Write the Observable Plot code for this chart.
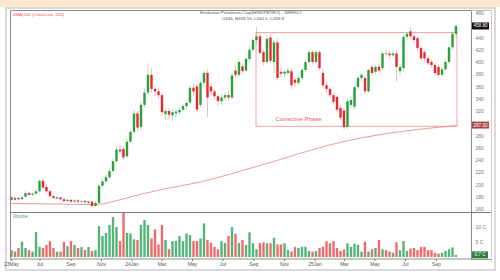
<!DOCTYPE html>
<html><head><meta charset="utf-8">
<script src="https://cdn.jsdelivr.net/npm/d3@7"></script>
<script src="https://cdn.jsdelivr.net/npm/@observablehq/plot@0.6"></script>
<style>
body{margin:0;background:#fff;font-family:"Liberation Sans",Arial,sans-serif;}
#wrap{position:relative;width:500px;height:280px;overflow:hidden;background:#fff;}
#wrap svg{position:absolute;left:0;}
</style></head><body><div id="wrap"></div>
<script>
// ---- data (weekly candles, HINDPETRO) ----
const startDate = "2023-05-05";
const opens  = [179,175,178,176,180,186,183,185,189,206,196,189,181,177,179,176,173,175,172,174,172,173,170,172,165,170,198,205,212,222,238,257,258,246,270,286,316,294,330,350,379,356,352,346,315,320,313,316,318,322,328,334,358,360,330,366,382,360,352,344,336,342,346,342,386,379,393,386,405,420,436,442,416,400,440,400,432,384,381,382,385,371,366,374,387,400,416,400,416,382,362,356,346,343,325,321,294,330,327,359,374,374,352,392,384,392,390,414,414,411,414,385,390,441,450,442,439,423,416,406,400,395,392,379,388,400,424,446];
const highs  = [181,180,179,181,190,188,187,192,208,210,200,191,183,181,180,178,177,176,176,176,175,175,174,173,172,200,210,216,226,242,262,265,262,274,290,322,320,335,356,398,390,362,358,350,325,324,322,324,326,332,338,362,365,364,370,386,388,366,356,348,346,350,352,382,392,404,398,408,425,440,457,446,420,444,446,436,438,390,388,392,390,376,378,390,403,420,420,420,419,388,366,360,350,346,330,326,340,344,362,378,382,378,390,396,396,396,418,420,418,420,418,396,444,450,457,446,442,426,420,410,404,398,396,392,404,428,450,459.55];
const lows   = [173,173,174,175,179,181,181,184,187,193,186,179,176,175,174,171,171,170,170,170,170,169,168,162,163,168,195,202,209,220,235,250,240,243,267,283,288,290,326,346,350,345,340,312,305,306,303,310,314,318,323,330,345,318,326,360,310,346,338,328,330,337,338,339,375,375,380,383,400,415,430,412,395,396,398,382,370,376,375,378,355,360,362,370,383,396,396,397,386,358,350,342,330,318,305,290,290,325,322,355,368,348,350,378,380,382,386,408,405,408,368,378,386,436,438,430,418,400,400,394,390,378,375,375,385,396,420,440.1];
const closes = [175,178,176,179,186,183,185,189,206,195,189,181,178,179,176,173,175,172,174,172,173,171,172,165,170,198,205,212,222,238,257,254,244,270,286,316,293,330,350,379,356,352,346,318,320,314,318,319,322,328,333,358,352,322,366,382,342,352,344,336,342,346,342,378,379,400,385,405,420,436,442,415,400,438,402,432,374,381,384,386,362,366,374,387,400,416,400,416,390,362,356,346,335,322,309,294,336,338,359,374,379,352,387,382,392,386,414,413,411,414,392,392,441,446,442,436,423,406,406,398,395,382,379,388,400,424,446,458.8];
// volume, crores of shares
const volumes = [2.3,1.8,3.0,5.1,3.0,2.3,1.8,8.3,3.4,3.0,4.0,5.3,3.0,1.8,1.8,5.1,3.6,5.3,4.0,3.0,3.3,2.3,3.3,2.0,2.3,10.3,7.0,8.0,10.7,13.3,10.0,5.3,14.8,8.0,7.8,5.9,5.7,10.7,12.3,10.7,6.2,9.2,4.2,10.7,5.7,2.6,5.3,5.3,7.0,5.3,7.8,7.3,5.3,5.3,6.2,11.2,5.7,4.7,3.4,2.6,5.3,4.7,7.0,10.0,7.8,4.7,5.7,4.0,
  8.2,4.6,2.6,4.6,4.9,4.6,4.6,6.4,4.2,4.2,4.6,2.3,1.8,3.4,3.0,3.4,3.4,2.0,1.8,2.0,3.0,3.4,5.3,4.6,5.3,3.0,2.0,2.6,4.6,3.4,4.4,4.0,1.8,5.1,1.8,2.6,3.0,5.7,2.6,2.3,1.8,1.4,4.9,2.3,5.3,2.0,2.8,3.0,2.3,3.4,3.4,2.3,2.3,1.4,1.1,1.4,2.0,2.6,3.2,0.7];
// 200-period SMA, read at a few weeks
const smaWeeks  = [0,11,24,31,37,45,54,65,77,88,100,111,127];
const smaValues = [170,169,168,176,185,195,205,222,242,261,277,287,297];
// axis
const priceTicks = [160,180,200,220,240,260,280,320,340,360,380,400,420,440,480];
const volumeTicks = [5,10];
const tickDates  = ["2023-05-05","2023-07-01","2023-09-01","2023-11-01","2024-01-01","2024-03-01","2024-05-01","2024-07-01","2024-09-01","2024-11-01","2025-01-01","2025-03-01","2025-05-01","2025-07-01","2025-09-01"];
const tickLabels = ["23May","Jul","Sep","Nov","24Jan","Mar","May","Jul","Sep","Nov","25Jan","Mar","May","Jul","Sep"];
// annotations
const boxStart = "2024-09-06", boxEnd = "2025-10-13", boxLow = 295, boxHigh = 448;
const annotationText = ["Corrective Phase"], annotationWeek = [82], annotationPrice = [308];
const titleLines = ["Hindustan Petroleum Corp(HINDPETRO) - WEEKLY", "O446, H459.55, L440.1, C458.8"];
const smaLabel = "SMA(200 (CloseLine, 200)";

// ---- build ----
const GREEN = "#26a03c", RED = "#e9282e", VGREEN = "#55b27a", VRED = "#ef6b6b";
const weekDate = i => d3.utcDay.offset(new Date(startDate), 7 * i);
const candles = opens.map((o, i) => ({date: weekDate(i), open: o, high: highs[i], low: lows[i], close: closes[i], volume: volumes[i], up: closes[i] >= o}));
const sma = smaWeeks.map((w, i) => ({date: weekDate(w), value: smaValues[i]}));
const xDomain = [weekDate(0), weekDate(opens.length - 1)];
const xRange = [11, 455.5];
const FONT = "Liberation Sans, Arial, sans-serif";

const price = Plot.plot({
  width: 500, height: 213,
  marginLeft: 10, marginRight: 29, marginTop: 10, marginBottom: 1,
  style: {background: "transparent", fontSize: "5px", fontFamily: FONT, overflow: "visible"},
  x: {type: "utc", domain: xDomain, range: xRange, axis: null},
  y: {domain: [160, 480], range: [209, 13], axis: null},
  color: {type: "identity"},
  marks: [
    Plot.axisY({anchor: "right", ticks: priceTicks, label: null, tickSize: 0, tickPadding: 4, fill: "#777", textAnchor: "start", fontSize: 5}),
    Plot.rect([0], {x1: () => new Date(boxStart), x2: () => new Date(boxEnd), y1: () => boxLow, y2: () => boxHigh, stroke: "#f3a2a2", strokeWidth: 1, fill: "none"}),
    Plot.line(sma, {x: "date", y: "value", stroke: "#e98484", strokeWidth: 0.8, curve: "monotone-x"}),
    Plot.ruleX(candles, {x: "date", y1: "low", y2: "high", stroke: d => d.up ? GREEN : RED, strokeWidth: 0.6, strokeOpacity: 0.55}),
    Plot.ruleX(candles, {x: "date", y1: "open", y2: "close", stroke: d => d.up ? GREEN : RED, strokeWidth: 2.4}),
    Plot.text(annotationText, {x: (d, i) => weekDate(annotationWeek[i]), y: (d, i) => annotationPrice[i], text: d => d, fill: "#e35a5a", fontSize: 6}),
    Plot.text([titleLines[0]], {frameAnchor: "top", dx: 10, dy: 2, text: d => d, fill: "#555", fontSize: 4.4, lineAnchor: "middle"}),
    Plot.text([titleLines[1]], {frameAnchor: "top", dx: 12, dy: 8.5, text: d => d, fill: "#555", fontSize: 4.4, lineAnchor: "middle"}),
    Plot.text([smaLabel], {frameAnchor: "top-left", dx: 2, dy: 4, text: d => d, fill: "#e05858", fontSize: 4.4, textAnchor: "start", lineAnchor: "middle"})
  ]
});
price.style.top = "0px";

const labelMap = new Map(tickDates.map((s, i) => [+new Date(s), tickLabels[i]]));
const vol = Plot.plot({
  width: 500, height: 58,
  marginLeft: 10, marginRight: 29, marginTop: 0, marginBottom: 11,
  style: {background: "transparent", fontSize: "5px", fontFamily: FONT, overflow: "visible"},
  x: {type: "utc", domain: xDomain, range: xRange},
  y: {domain: [0, 15], range: [45, 0], axis: null},
  color: {type: "identity"},
  marks: [
    Plot.ruleX(candles, {x: "date", y1: 0, y2: "volume", stroke: d => d.up ? VGREEN : VRED, strokeWidth: 2.4}),
    Plot.axisY({anchor: "right", ticks: volumeTicks, label: null, tickFormat: d => d + " C", tickSize: 0, tickPadding: 4, fill: "#777", textAnchor: "start", fontSize: 5}),
    Plot.axisX({ticks: tickDates.map(s => new Date(s)), label: null, tickFormat: d => labelMap.get(+d), tickSize: 2, tickPadding: 1, fill: "#555", stroke: "#777", fontSize: 5}),
    Plot.text(["Volume"], {frameAnchor: "top-left", dx: 2, dy: 4.5, text: d => d, fill: "#3f9b5e", fontSize: 4.6, textAnchor: "start", lineAnchor: "middle"})
  ]
});
vol.style.top = "212px";

const wrap = d3.select("#wrap");
wrap.append("div").style("position","absolute").style("left","0").style("top","0").style("width","500px").style("height","7px").style("background","#fde8cf");
wrap.append("div").style("position","absolute").style("left","5px").style("top","7px").style("width","487px").style("height","260px").style("border","2px solid #d9d9d9");
wrap.node().append(price);
wrap.node().append(vol);

// overlay: frame lines and value tags
const ov = wrap.append("svg").attr("width", 500).attr("height", 280).style("top", "0px");
ov.append("rect").attr("x", 10.5).attr("y", 10.5).attr("width", 461).attr("height", 248.5).attr("fill", "none").attr("stroke", "#8c8c8c");
ov.append("line").attr("x1", 10).attr("x2", 491).attr("y1", 212.5).attr("y2", 212.5).attr("stroke", "#7a7a7a");
ov.append("line").attr("x1", 471).attr("x2", 491).attr("y1", 10.5).attr("y2", 10.5).attr("stroke", "#bbb");
ov.append("line").attr("x1", 491.5).attr("x2", 491.5).attr("y1", 10).attr("y2", 262).attr("stroke", "#e3c3cb");
ov.append("line").attr("x1", 471).attr("x2", 491).attr("y1", 259.5).attr("y2", 259.5).attr("stroke", "#999");

function tag(y, fill, label, w) {
  ov.append("rect").attr("x", 472).attr("y", y - 3.5).attr("width", w).attr("height", 7).attr("fill", fill);
  ov.append("text").attr("x", 472 + w / 2).attr("y", y).attr("fill", "#fff").attr("font-size", 4.6)
    .attr("font-family", FONT).attr("text-anchor", "middle").attr("dominant-baseline", "central").text(label);
}
const lastClose = closes[closes.length - 1];
tag(price.scale("y").apply(lastClose), "#111", lastClose.toFixed(2), 17);
const lastSma = smaValues[smaValues.length - 1];
tag(price.scale("y").apply(lastSma), "#a84848", lastSma.toFixed(2), 17);
const lastVol = volumes[volumes.length - 1];
tag(212 + vol.scale("y").apply(lastVol), "#2f7d3e", lastVol.toFixed(1) + " C", 16);
</script></body></html>
